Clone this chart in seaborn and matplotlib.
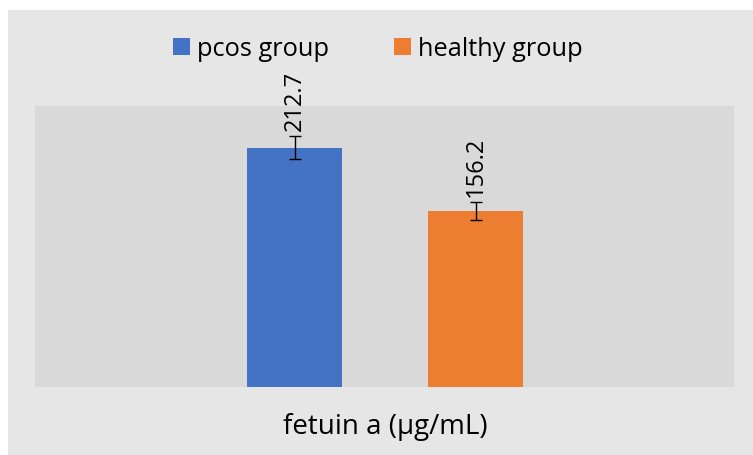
import matplotlib
matplotlib.use("Agg")
import matplotlib.pyplot as plt
import seaborn as sns
import pandas as pd
from matplotlib.patches import Rectangle

# ---- data ----
category = ["fetuin a (µg/mL)"]
groups = ["pcos group", "healthy group"]
values = [212.7, 156.2]
errors = [10.3, 7.8]
colors = ["#4472C4", "#ED7D31"]

df = pd.DataFrame({"measure": category * len(groups), "group": groups, "value": values})

sns.set_theme(style="white")
plt.rcParams["font.family"] = ["Open Sans", "DejaVu Sans"]
plt.rcParams["text.color"] = "black"

fig = plt.figure(figsize=(7.53, 4.55), dpi=100)
fig.patch.set_facecolor("white")
# chart area background
fig.patches.append(Rectangle((8 / 753, 0), 1 - 8 / 753, 445 / 455, transform=fig.transFigure,
                             facecolor="#E7E6E6", edgecolor="none", zorder=-10))

ax = fig.add_axes([35 / 753, 68.5 / 455, 699 / 753, 280.5 / 455])
ax.set_zorder(1)
ax.set_facecolor("#D9D9D9")

sns.barplot(data=df, x="measure", y="value", hue="group", hue_order=groups,
            palette=colors, width=0.8, gap=0.478, ax=ax, errorbar=None,
            saturation=1, legend=True, linewidth=0)

bars = [p for p in ax.patches][:len(groups)]
for bar, v, e in zip(bars, values, errors):
    cx = bar.get_x() + bar.get_width() / 2
    ax.errorbar(cx, v, yerr=e, fmt="none", ecolor="black", elinewidth=1.0,
                capsize=4.3, capthick=1.0, zorder=5)
    ax.annotate(f"{v}", (cx, v + e), xytext=(0.5, 4), textcoords="offset points",
                rotation=90, ha="center", va="bottom", fontsize=17, color="black")

ax.set_ylim(0, 250)
ax.set_xlim(-0.7735, 0.771)
ax.set_ylabel("")
ax.set_xlabel("")
ax.set_yticks([])
ax.tick_params(axis="x", length=0, pad=19, labelsize=20, labelcolor="black")
for s in ax.spines.values():
    s.set_visible(False)

handles, labels = ax.get_legend_handles_labels()
ax.legend_.remove()
for h in handles:
    h.set_edgecolor("none")
fig.legend(handles, labels, loc="center", bbox_to_anchor=(378 / 753, 1 - 49 / 455),
           ncol=2, frameon=False, fontsize=18.3, handlelength=0.65, handleheight=0.65,
           handletextpad=0.3, columnspacing=2.55, labelcolor="black")

fig.savefig("out.png", dpi=100)
